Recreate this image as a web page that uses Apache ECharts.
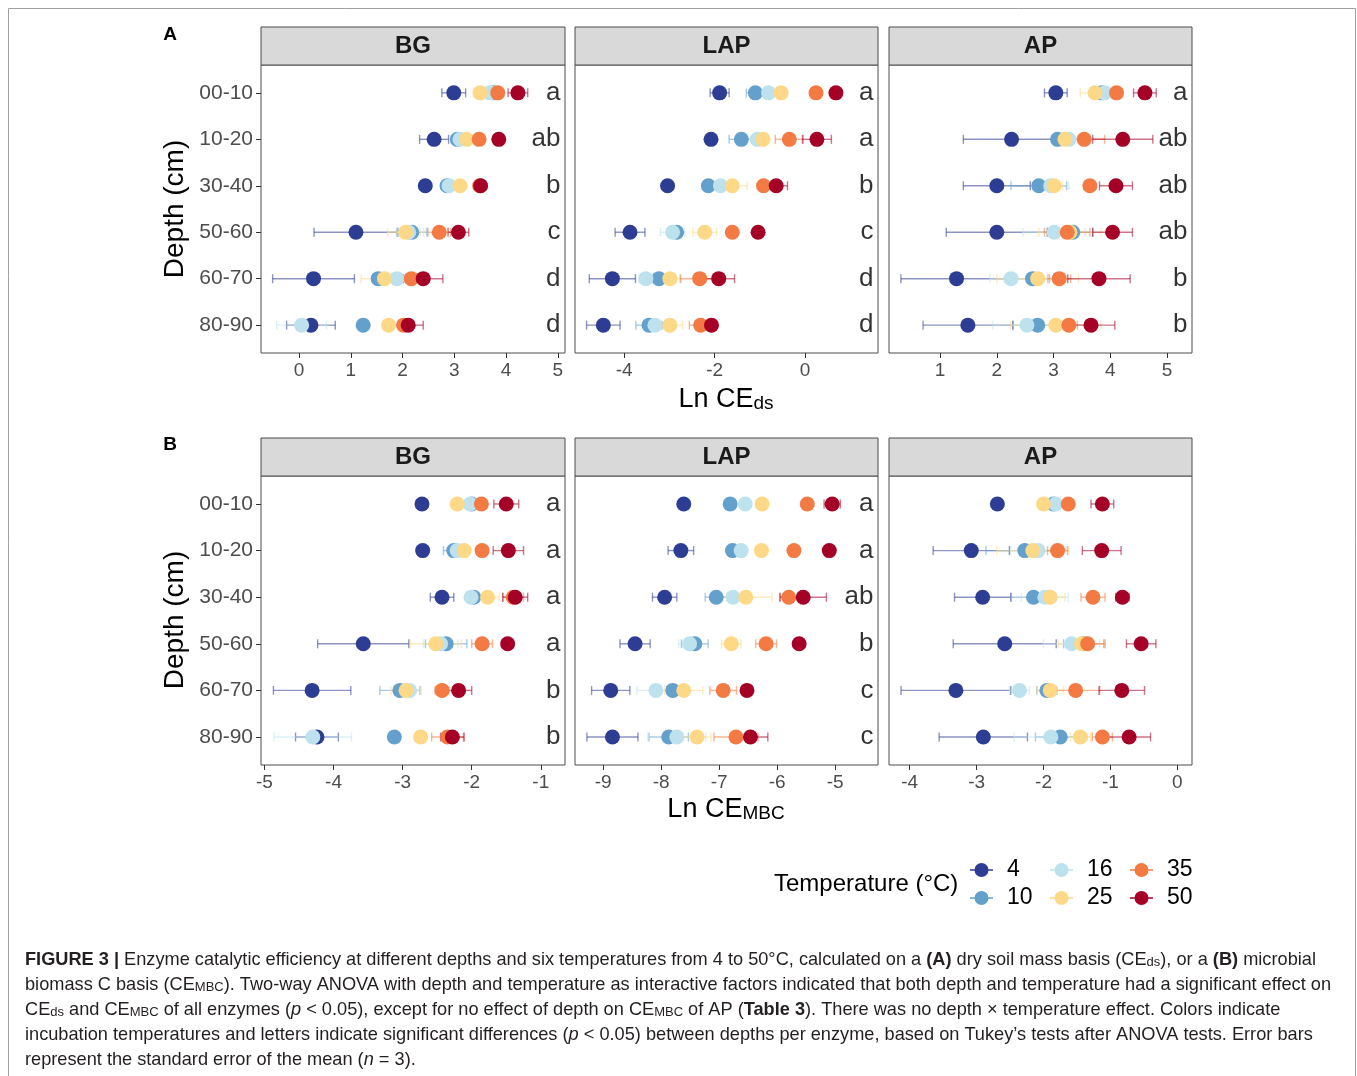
<!DOCTYPE html>
<html><head><meta charset="utf-8">
<script src="https://cdn.jsdelivr.net/npm/echarts@6/dist/echarts.min.js"></script>
<style>html,body{margin:0;padding:0;background:#fff}#c{width:1357px;height:1076px}</style>
</head><body><div id="c"></div>
<script>
// ---------------- data ----------------
const depths = ['00-10', '10-20', '30-40', '50-60', '60-70', '80-90'];
const temps = ['4', '10', '16', '25', '35', '50'];
const enzymes = ['BG', 'LAP', 'AP'];

// rows = depths, columns = temperatures (4,10,16,25,35,50)
const BG_ds_mean = [
  [2.99, 3.76, 3.69, 3.50, 3.84, 4.23],
  [2.61, 3.06, 3.11, 3.24, 3.48, 3.86],
  [2.44, 2.86, 2.90, 3.11, 3.49, 3.51],
  [1.10, 2.18, 2.12, 2.06, 2.71, 3.08],
  [0.28, 1.53, 1.89, 1.65, 2.17, 2.40],
  [0.23, 1.24, 0.05, 1.73, 2.02, 2.11]];
const BG_ds_se = [
  [0.23, 0.08, 0.08, 0.13, 0.08, 0.19],
  [0.28, 0.12, 0.08, 0.08, 0.08, 0.08],
  [0.08, 0.08, 0.12, 0.08, 0.08, 0.08],
  [0.81, 0.29, 0.22, 0.35, 0.22, 0.20],
  [0.79, 0.10, 0.10, 0.45, 0.10, 0.38],
  [0.47, 0.05, 0.48, 0.08, 0.08, 0.29]];
const LAP_ds_mean = [
  [-1.89, -1.10, -0.81, -0.53, 0.24, 0.68],
  [-2.08, -1.41, -1.06, -0.93, -0.35, 0.26],
  [-3.04, -2.14, -1.87, -1.61, -0.92, -0.64],
  [-3.87, -2.84, -2.93, -2.22, -1.61, -1.04],
  [-4.26, -3.23, -3.52, -2.99, -2.33, -1.91],
  [-4.46, -3.45, -3.32, -2.99, -2.31, -2.07]];
const LAP_ds_se = [
  [0.21, 0.20, 0.08, 0.08, 0.08, 0.08],
  [0.08, 0.27, 0.10, 0.10, 0.31, 0.32],
  [0.05, 0.08, 0.08, 0.33, 0.10, 0.25],
  [0.33, 0.10, 0.27, 0.26, 0.08, 0.08],
  [0.51, 0.20, 0.15, 0.25, 0.43, 0.35],
  [0.37, 0.29, 0.15, 0.28, 0.25, 0.08]];
const AP_ds_mean = [
  [3.04, 3.85, 3.90, 3.73, 4.11, 4.61],
  [2.26, 3.07, 3.27, 3.20, 3.54, 4.22],
  [2.00, 2.74, 2.95, 3.01, 3.64, 4.10],
  [2.00, 3.34, 3.01, 3.29, 3.24, 4.04],
  [1.29, 2.63, 2.25, 2.72, 3.10, 3.80],
  [1.49, 2.72, 2.53, 3.04, 3.27, 3.66]];
const AP_ds_se = [
  [0.20, 0.10, 0.10, 0.26, 0.10, 0.20],
  [0.85, 0.10, 0.15, 0.15, 0.36, 0.53],
  [0.59, 0.49, 0.32, 0.15, 0.10, 0.29],
  [0.89, 0.35, 0.55, 0.55, 0.40, 0.35],
  [0.98, 0.30, 0.37, 0.72, 0.20, 0.55],
  [0.79, 0.43, 0.60, 0.80, 0.15, 0.42]];
const BG_mbc_mean = [
  [-2.72, -2.00, -2.02, -2.21, -1.86, -1.50],
  [-2.71, -2.26, -2.21, -2.11, -1.85, -1.47],
  [-2.43, -1.97, -2.01, -1.77, -1.40, -1.37],
  [-3.57, -2.37, -2.45, -2.52, -1.85, -1.48],
  [-4.31, -3.04, -2.90, -2.95, -2.43, -2.19],
  [-4.24, -3.12, -4.30, -2.74, -2.35, -2.28]];
const BG_mbc_se = [
  [0.08, 0.08, 0.08, 0.08, 0.08, 0.18],
  [0.08, 0.15, 0.08, 0.08, 0.08, 0.22],
  [0.17, 0.08, 0.08, 0.17, 0.15, 0.18],
  [0.66, 0.30, 0.25, 0.37, 0.15, 0.08],
  [0.56, 0.29, 0.15, 0.22, 0.10, 0.19],
  [0.31, 0.05, 0.56, 0.08, 0.23, 0.17]];
const LAP_mbc_mean = [
  [-7.61, -6.81, -6.55, -6.26, -5.48, -5.05],
  [-7.66, -6.77, -6.62, -6.27, -5.71, -5.10],
  [-7.94, -7.05, -6.76, -6.54, -5.80, -5.55],
  [-8.45, -7.42, -7.51, -6.79, -6.19, -5.62],
  [-8.87, -7.80, -8.09, -7.61, -6.93, -6.52],
  [-8.84, -7.87, -7.73, -7.38, -6.71, -6.46]];
const LAP_mbc_se = [
  [0.05, 0.05, 0.05, 0.05, 0.05, 0.14],
  [0.22, 0.08, 0.05, 0.05, 0.05, 0.05],
  [0.21, 0.19, 0.08, 0.45, 0.15, 0.40],
  [0.26, 0.23, 0.19, 0.17, 0.18, 0.05],
  [0.33, 0.10, 0.33, 0.33, 0.23, 0.05],
  [0.44, 0.34, 0.50, 0.24, 0.38, 0.30]];
const AP_mbc_mean = [
  [-2.69, -1.85, -1.82, -2.00, -1.63, -1.12],
  [-3.08, -2.28, -2.08, -2.16, -1.79, -1.13],
  [-2.91, -2.15, -1.98, -1.90, -1.26, -0.82],
  [-2.58, -1.40, -1.58, -1.43, -1.34, -0.54],
  [-3.31, -1.95, -2.36, -1.90, -1.52, -0.83],
  [-2.90, -1.75, -1.89, -1.45, -1.12, -0.72]];
const AP_mbc_se = [
  [0.05, 0.05, 0.05, 0.05, 0.05, 0.17],
  [0.57, 0.58, 0.41, 0.54, 0.15, 0.29],
  [0.42, 0.33, 0.35, 0.22, 0.18, 0.10],
  [0.77, 0.30, 0.42, 0.35, 0.26, 0.22],
  [0.82, 0.15, 0.15, 0.20, 0.36, 0.34],
  [0.66, 0.37, 0.55, 0.15, 0.15, 0.32]];

const BG_ds_letters = ['a', 'ab', 'b', 'c', 'd', 'd'];
const LAP_ds_letters = ['a', 'a', 'b', 'c', 'd', 'd'];
const AP_ds_letters = ['a', 'ab', 'ab', 'ab', 'b', 'b'];
const BG_mbc_letters = ['a', 'a', 'a', 'a', 'b', 'b'];
const LAP_mbc_letters = ['a', 'a', 'ab', 'b', 'c', 'c'];
const AP_mbc_letters = [];

const BG_ds_ticks = [0, 1, 2, 3, 4, 5];
const LAP_ds_ticks = [-4, -2, 0];
const AP_ds_ticks = [1, 2, 3, 4, 5];
const BG_mbc_ticks = [-5, -4, -3, -2, -1];
const LAP_mbc_ticks = [-9, -8, -7, -6, -5];
const AP_mbc_ticks = [-4, -3, -2, -1, 0];

const BG_ds_range = [-0.735, 5.14];
const LAP_ds_range = [-5.086, 1.61];
const AP_ds_range = [0.10, 5.44];
const BG_mbc_range = [-5.05, -0.65];
const LAP_mbc_range = [-9.486, -4.26];
const AP_mbc_range = [-4.31, 0.22];

// ---------------- styling ----------------
const tempColors = ['#2d3d94', '#64a0cc', '#bde2ee', '#fdd886', '#f47a44', '#a50026'];
const FONT = '"Liberation Sans", Arial, Helvetica, sans-serif';
const panelCols = [[261, 304], [575, 303], [889, 303]];
const panelRows = [[65, 288], [476, 289]];

const panels = [
  [BG_ds_mean, BG_ds_se, BG_ds_letters, BG_ds_ticks, BG_ds_range],
  [LAP_ds_mean, LAP_ds_se, LAP_ds_letters, LAP_ds_ticks, LAP_ds_range],
  [AP_ds_mean, AP_ds_se, AP_ds_letters, AP_ds_ticks, AP_ds_range],
  [BG_mbc_mean, BG_mbc_se, BG_mbc_letters, BG_mbc_ticks, BG_mbc_range],
  [LAP_mbc_mean, LAP_mbc_se, LAP_mbc_letters, LAP_mbc_ticks, LAP_mbc_range],
  [AP_mbc_mean, AP_mbc_se, AP_mbc_letters, AP_mbc_ticks, AP_mbc_range]
];

const grid = [], xAxis = [], yAxis = [], errSeries = [], ptSeries = [], letterSeries = [];
const depthIdx = depths.map((d, i) => i);

function renderErr(params, api) {
  const x = api.value(0), se = api.value(1), y = api.value(2);
  const p1 = api.coord([x - se, y]), p2 = api.coord([x + se, y]);
  const h = 4.5;
  const style = { stroke: api.visual('color'), lineWidth: 1.4, opacity: 0.55, fill: null };
  return {
    type: 'group', children: [
      { type: 'line', shape: { x1: p1[0], y1: p1[1], x2: p2[0], y2: p2[1] }, style: style },
      { type: 'line', shape: { x1: p1[0], y1: p1[1] - h, x2: p1[0], y2: p1[1] + h }, style: style },
      { type: 'line', shape: { x1: p2[0], y1: p2[1] - h, x2: p2[0], y2: p2[1] + h }, style: style }
    ]
  };
}

panels.forEach((pn, k) => {
  const [means, ses, letters, ticks, range] = pn;
  const r = Math.floor(k / 3), c = k % 3;
  grid.push({
    left: panelCols[c][0], width: panelCols[c][1], top: panelRows[r][0], height: panelRows[r][1],
    show: true, borderColor: '#4d4d4d', borderWidth: 1, backgroundColor: 'transparent', containLabel: false
  });
  xAxis.push({
    type: 'value', gridIndex: k, min: range[0], max: range[1], position: 'bottom',
    axisLine: { show: false, onZero: false }, splitLine: { show: false },
    axisTick: { show: true, length: 5, lineStyle: { color: '#333' }, customValues: ticks },
    axisLabel: { show: true, customValues: ticks, color: '#4d4d4d', fontSize: 19, fontFamily: FONT, margin: 8 }
  });
  yAxis.push({
    type: 'value', gridIndex: k, inverse: true, min: -0.6, max: depths.length - 0.4, position: 'left',
    axisLine: { show: false, onZero: false }, splitLine: { show: false },
    axisTick: { show: c === 0, length: 5, lineStyle: { color: '#333' }, customValues: depthIdx },
    axisLabel: {
      show: c === 0, customValues: depthIdx, color: '#4d4d4d', fontSize: 21, fontFamily: FONT, margin: 8,
      formatter: v => depths[Math.round(v)] || ''
    }
  });
  temps.forEach((t, ti) => {
    errSeries.push({
      type: 'custom', name: t + ' se', xAxisIndex: k, yAxisIndex: k, coordinateSystem: 'cartesian2d',
      renderItem: renderErr, itemStyle: { color: tempColors[ti] }, encode: { x: 0, y: 2 }, z: 2, silent: true,
      data: depths.map((d, i) => [means[i][ti], ses[i][ti], i])
    });
    ptSeries.push({
      type: 'scatter', name: t, xAxisIndex: k, yAxisIndex: k, symbol: 'circle', symbolSize: 15,
      itemStyle: { color: tempColors[ti], opacity: 1 }, z: 3, silent: true, clip: false,
      emphasis: { disabled: true },
      data: depths.map((d, i) => [means[i][ti], i])
    });
  });
  if (letters.length) {
    letterSeries.push({
      type: 'scatter', xAxisIndex: k, yAxisIndex: k, symbolSize: 1, itemStyle: { color: 'rgba(0,0,0,0)' }, z: 4,
      silent: true, clip: false,
      data: letters.map((l, i) => [range[1], i]),
      label: {
        show: true, position: 'left', distance: 4, color: '#000', fontSize: 26, fontFamily: FONT,
        formatter: p => letters[p.dataIndex]
      }
    });
  }
});

// ---------------- graphics ----------------
const graphic = [];
graphic.push({ type: 'rect', shape: { x: 8.5, y: 8.5, width: 1347, height: 1085 }, style: { fill: 'none', stroke: '#a0a0a0', lineWidth: 1 }, z: 0 });
[0, 1].forEach(r => {
  panelCols.forEach((pc, c) => {
    graphic.push({ type: 'rect', shape: { x: pc[0], y: panelRows[r][0] - 38, width: pc[1], height: 38 },
      style: { fill: '#d9d9d9', stroke: '#4d4d4d', lineWidth: 1 }, z: 1 });
    graphic.push({ type: 'text', x: pc[0] + pc[1] / 2, y: panelRows[r][0] - 19, z: 2,
      style: { text: enzymes[c], font: 'bold 24px ' + FONT, fill: '#1a1a1a', align: 'center', verticalAlign: 'middle', textAlign: 'center', textVerticalAlign: 'middle' } });
  });
  graphic.push({ type: 'text', x: 170, y: r === 0 ? 35 : 445, z: 2,
    style: { text: r === 0 ? 'A' : 'B', font: 'bold 19px ' + FONT, fill: '#000', align: 'center', verticalAlign: 'middle', textAlign: 'center', textVerticalAlign: 'middle' } });
  graphic.push({ type: 'text', x: 175, y: r === 0 ? 209 : 620, rotation: Math.PI / 2, z: 2,
    style: { text: 'Depth (cm)', font: '28px ' + FONT, fill: '#000', align: 'center', verticalAlign: 'middle', textAlign: 'center', textVerticalAlign: 'middle' } });
  graphic.push({ type: 'text', x: 726, y: r === 0 ? 398 : 808, z: 2,
    style: {
      text: r === 0 ? '{m|Ln CE}{s|ds}' : '{m|Ln CE}{s|MBC}',
      align: 'center', verticalAlign: 'middle', textAlign: 'center', textVerticalAlign: 'middle',
      rich: {
        m: { fontSize: 27, fontFamily: FONT, fill: '#000', color: '#000', lineHeight: 30, verticalAlign: 'bottom' },
        s: { fontSize: 19, fontFamily: FONT, fill: '#000', color: '#000', lineHeight: 16, verticalAlign: 'bottom' }
      }
    } });
});
graphic.push({ type: 'text', x: 774, y: 884, z: 2,
  style: { text: 'Temperature (°C)', font: '24px ' + FONT, fill: '#000', align: 'left', verticalAlign: 'middle', textAlign: 'left', textVerticalAlign: 'middle' } });

const captionLines = [
  [['b', 'FIGURE 3 |'], ['n', ' Enzyme catalytic efficiency at different depths and six temperatures from 4 to 50°C, calculated on a '], ['b', '(A)'], ['n', ' dry soil mass basis (CE'], ['s', 'ds'], ['n', '), or a '], ['b', '(B)'], ['n', ' microbial']],
  [['n', 'biomass C basis (CE'], ['s', 'MBC'], ['n', '). Two-way ANOVA with depth and temperature as interactive factors indicated that both depth and temperature had a significant effect on']],
  [['n', 'CE'], ['s', 'ds'], ['n', ' and CE'], ['s', 'MBC'], ['n', ' of all enzymes ('], ['i', 'p'], ['n', ' < 0.05), except for no effect of depth on CE'], ['s', 'MBC'], ['n', ' of AP ('], ['b', 'Table 3'], ['n', '). There was no depth × temperature effect. Colors indicate']],
  [['n', 'incubation temperatures and letters indicate significant differences ('], ['i', 'p'], ['n', ' < 0.05) between depths per enzyme, based on Tukey’s tests after ANOVA tests. Error bars']],
  [['n', 'represent the standard error of the mean ('], ['i', 'n'], ['n', ' = 3).']]
];
const capFill = '#231f20';
const CAPFS = 18.2;
const capRich = {
  n: { fontSize: CAPFS, fontFamily: FONT, fill: capFill, color: capFill, lineHeight: 24, verticalAlign: 'bottom' },
  b: { fontSize: CAPFS, fontFamily: FONT, fontWeight: 'bold', fill: capFill, color: capFill, lineHeight: 24, verticalAlign: 'bottom' },
  i: { fontSize: CAPFS, fontFamily: FONT, fontStyle: 'italic', fill: capFill, color: capFill, lineHeight: 24, verticalAlign: 'bottom' },
  s: { fontSize: 13, fontFamily: FONT, fill: capFill, color: capFill, lineHeight: 13, verticalAlign: 'bottom' }
};
captionLines.forEach((ln, li) => {
  graphic.push({ type: 'text', x: 25, y: 957 + li * 25, z: 2,
    style: { text: ln.map(p => '{' + p[0] + '|' + p[1] + '}').join(''), rich: capRich,
      align: 'left', verticalAlign: 'middle', textAlign: 'left', textVerticalAlign: 'middle' } });
});

// ---------------- legend ----------------
const legendIcon = 'path://M0,6.3H23V7.7H0Z M4.5,7A7,7 0 1 1 18.5,7A7,7 0 1 1 4.5,7Z';
const legendCols = [970, 1050, 1130];
const legend = legendCols.map((lx, j) => ({
  orient: 'vertical', left: lx, top: 858, padding: 0, itemWidth: 23, itemHeight: 14, itemGap: 4,
  selectedMode: false,
  data: [temps[2 * j], temps[2 * j + 1]].map(n => ({ name: n, icon: legendIcon })),
  textStyle: { fontSize: 23, fontFamily: FONT, color: '#000', lineHeight: 24, padding: [0, 0, 0, 9] }
}));

const chart = echarts.init(document.getElementById('c'), null, { renderer: 'canvas' });
chart.setOption({
  animation: false,
  backgroundColor: '#fff',
  grid, xAxis, yAxis, legend, graphic,
  series: [...errSeries, ...ptSeries, ...letterSeries]
});
</script></body></html>
